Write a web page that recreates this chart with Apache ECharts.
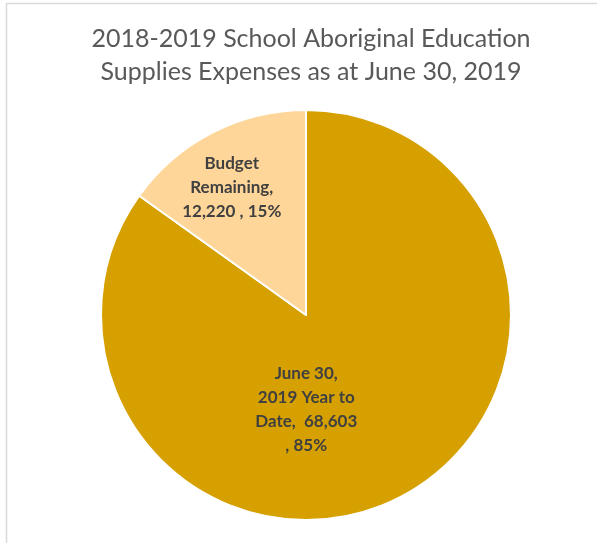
<!DOCTYPE html>
<html><head><meta charset="utf-8">
<script src="https://cdn.jsdelivr.net/npm/echarts@6/dist/echarts.min.js"></script>
<style>html,body{margin:0;padding:0;background:#fff}#c{width:597px;height:543px}</style>
</head><body><div id="c"></div>
<script>
const titleLines = ['2018-2019 School Aboriginal Education', 'Supplies Expenses as at June 30, 2019'];
const categories = ['June 30, 2019 Year to Date', 'Budget Remaining'];
const values = [68603, 12220];
const percents = ['85%', '15%'];
const labelTexts = ['June 30,\n2019 Year to\nDate,  68,603\n, 85%', 'Budget\nRemaining,\n12,220 , 15%'];
const colors = ['#D5A000', '#FFD699'];

const chart = echarts.init(document.getElementById('c'));
chart.setOption({
  backgroundColor: '#fff',
  animation: false,
  title: {
    text: titleLines.join('\n'),
    left: 306, top: 17, textAlign: 'center',
    textStyle: {fontFamily: 'Lato', fontSize: 25, fontWeight: 'normal', color: '#595959', lineHeight: 33}
  },
  graphic: [{
    type: 'rect', shape: {x: 6.5, y: 3.5, width: 620, height: 600},
    style: {fill: 'none', stroke: '#d9d9d9', lineWidth: 1.5}
  }],
  series: [{
    type: 'pie',
    center: [306, 315],
    radius: [0, 205],
    startAngle: 90,
    clockwise: true,
    data: categories.map((c, i) => ({
      name: c, value: values[i],
      itemStyle: {color: colors[i]},
      label: {formatter: labelTexts[i]}
    })),
    itemStyle: {borderColor: '#fff', borderWidth: 2},
    label: {
      show: true, position: 'inside',
      fontFamily: 'Lato', fontSize: 17, fontWeight: 'bold', color: '#404040', lineHeight: 24, align: 'center'
    },
    labelLayout: function (p) {
      return p.dataIndex === 0 ? {dx: -48, dy: 1} : {dx: -26, dy: -34};
    },
    emphasis: {disabled: true}
  }]
});
</script></body></html>
